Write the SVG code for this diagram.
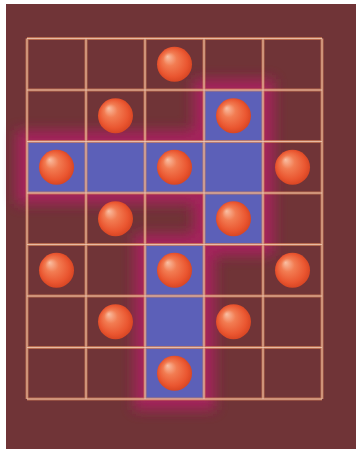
<svg xmlns="http://www.w3.org/2000/svg" width="356" height="449" viewBox="0 0 356 449">
<defs>
<radialGradient id="ballGrad" cx="0.5" cy="0.5" r="0.55" fx="0.3" fy="0.28">
<stop offset="0" stop-color="#f9c0a4"/>
<stop offset="0.35" stop-color="#f27c52"/>
<stop offset="0.75" stop-color="#ea5630"/>
<stop offset="1" stop-color="#d2401f"/>
</radialGradient>
<filter id="glow" x="-40%" y="-40%" width="180%" height="180%">
<feGaussianBlur stdDeviation="6.5"/>
</filter>
<style>
.cell{fill:#5c60b8}
.glowcell{fill:#a8205f;stroke:#a8205f;stroke-width:22}
.gridOuter{stroke:#d8845a;stroke-width:3;opacity:0.7;fill:none}
.gridInner{stroke:#f6d4bf;stroke-width:1;opacity:0.75;fill:none}
.ball{fill:url(#ballGrad)}
</style>
</defs>
<rect x="0" y="0" width="356" height="449" fill="#ffffff"/>
<rect x="6" y="4" width="350" height="445" fill="#703437"/>
<g id="glow-layer" filter="url(#glow)" opacity="0.95">
<rect class="glowcell" x="204" y="90" width="59" height="51.5"/>
<rect class="glowcell" x="27" y="141.5" width="236" height="51.5"/>
<rect class="glowcell" x="204" y="193" width="59" height="51.5"/>
<rect class="glowcell" x="145" y="244.5" width="59" height="154.5"/>
</g>
<g id="blue-cells">
<rect class="cell" x="204" y="90" width="59" height="51.5"/>
<rect class="cell" x="27" y="141.5" width="236" height="51.5"/>
<rect class="cell" x="204" y="193" width="59" height="51.5"/>
<rect class="cell" x="145" y="244.5" width="59" height="154.5"/>
</g>
<g id="grid">
<path class="gridOuter" d="M27 38.5V399M86 38.5V399M145 38.5V399M204 38.5V399M263 38.5V399M322 38.5V399M27 38.5H322M27 90H322M27 141.5H322M27 193H322M27 244.5H322M27 296H322M27 347.5H322M27 399H322"/>
<path class="gridInner" d="M27 38.5V399M86 38.5V399M145 38.5V399M204 38.5V399M263 38.5V399M322 38.5V399M27 38.5H322M27 90H322M27 141.5H322M27 193H322M27 244.5H322M27 296H322M27 347.5H322M27 399H322"/>
</g>
<g id="balls">
<circle id="b-0-2" class="ball" cx="174.5" cy="64.25" r="17.5"/>
<circle id="b-1-1" class="ball" cx="115.5" cy="115.75" r="17.5"/>
<circle id="b-1-3" class="ball" cx="233.5" cy="115.75" r="17.5"/>
<circle id="b-2-0" class="ball" cx="56.5" cy="167.25" r="17.5"/>
<circle id="b-2-2" class="ball" cx="174.5" cy="167.25" r="17.5"/>
<circle id="b-2-4" class="ball" cx="292.5" cy="167.25" r="17.5"/>
<circle id="b-3-1" class="ball" cx="115.5" cy="218.75" r="17.5"/>
<circle id="b-3-3" class="ball" cx="233.5" cy="218.75" r="17.5"/>
<circle id="b-4-0" class="ball" cx="56.5" cy="270.25" r="17.5"/>
<circle id="b-4-2" class="ball" cx="174.5" cy="270.25" r="17.5"/>
<circle id="b-4-4" class="ball" cx="292.5" cy="270.25" r="17.5"/>
<circle id="b-5-1" class="ball" cx="115.5" cy="321.75" r="17.5"/>
<circle id="b-5-3" class="ball" cx="233.5" cy="321.75" r="17.5"/>
<circle id="b-6-2" class="ball" cx="174.5" cy="373.25" r="17.5"/>
</g>
</svg>
